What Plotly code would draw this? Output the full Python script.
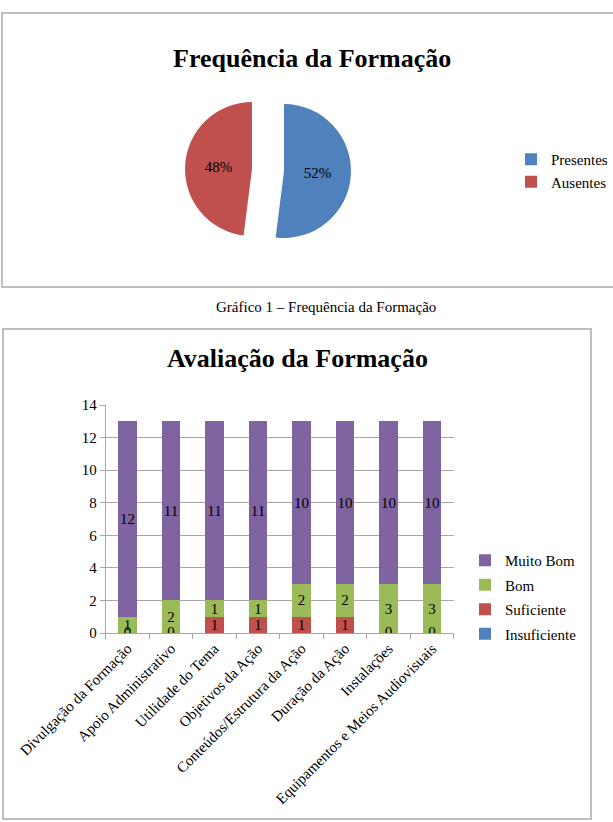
import plotly.graph_objects as go

# ---- data ----
pie_labels = ["Presentes", "Ausentes"]
pie_values = [52, 48]

categories = [
    "Divulgação da Formação",
    "Apoio Administrativo",
    "Utilidade do Tema",
    "Objetivos da Ação",
    "Conteúdos/Estrutura da Ação",
    "Duração da Ação",
    "Instalações",
    "Equipamentos e Meios Audiovisuais",
]
insuficiente = [0, 0, 0, 0, 0, 0, 0, 0]
suficiente = [0, 0, 1, 1, 1, 1, 0, 0]
bom = [1, 2, 1, 1, 2, 2, 3, 3]
muito_bom = [12, 11, 11, 11, 10, 10, 10, 10]
y_ticks = [0, 2, 4, 6, 8, 10, 12, 14]

W, H = 613, 822
FONT = "Liberation Serif, Times New Roman, serif"


def px(x):
    return x / W


def py(y):
    return 1 - y / H


fig = go.Figure()

fig.add_trace(go.Pie(
    labels=pie_labels, values=pie_values,
    marker=dict(colors=["#4F81BD", "#C0504D"]),
    sort=False, direction="clockwise", rotation=0,
    pull=[0.24, 0.24],
    textinfo="percent", texttemplate="%{percent:.0%}",
    textposition="inside", insidetextorientation="horizontal",
    textfont=dict(family=FONT, size=15, color="black"),
    domain=dict(x=[px(185), px(351)], y=[py(253), py(87)]),
    legend="legend", hoverinfo="label+percent",
))

series = [
    ("Insuficiente", insuficiente, "#4F81BD", 4),
    ("Suficiente", suficiente, "#C0504D", 3),
    ("Bom", bom, "#9BBB59", 2),
    ("Muito Bom", muito_bom, "#8064A2", 1),
]
for name, vals, col, rank in series:
    fig.add_trace(go.Bar(
        x=categories, y=vals, name=name, marker=dict(color=col, line=dict(width=0)),
        text=[str(v) if v > 0 else "" for v in vals],
        textposition="inside", insidetextanchor="middle", textangle=0,
        constraintext="none",
        textfont=dict(family=FONT, size=15, color="black"),
        legend="legend2", legendgroup=name, legendrank=rank,
        xaxis="x", yaxis="y",
    ))

# zero labels at the base of bars where Suficiente is 0
zero_x = [c for c, v in zip(categories, suficiente) if v == 0]
zero_y = [v for v in suficiente if v == 0]
fig.add_trace(go.Scatter(
    x=zero_x, y=zero_y, mode="text", text=[str(v) for v in zero_y],
    textposition="middle center",
    textfont=dict(family=FONT, size=15, color="black"),
    showlegend=False, hoverinfo="skip",
))

fig.update_layout(
    width=W, height=H, autosize=False,
    margin=dict(l=0, r=0, t=0, b=0, autoexpand=False),
    paper_bgcolor="white", plot_bgcolor="white",
    barmode="stack", bargap=0.58,
    font=dict(family=FONT, size=15, color="black"),
    xaxis=dict(
        domain=[px(105.75), px(453.75)], anchor="y", automargin=False,
        tickangle=-45, tickfont=dict(family=FONT, size=15),
        showline=True, linecolor="#A6A6A6", linewidth=1,
        ticks="outside", tickson="boundaries", ticklen=5, tickcolor="#A6A6A6",
        showgrid=False,
    ),
    yaxis=dict(
        domain=[py(633), py(405)], anchor="x", automargin=False,
        range=[0, 14], tickvals=y_ticks,
        tickfont=dict(family=FONT, size=15),
        showgrid=True, gridcolor="#A6A6A6", gridwidth=1,
        showline=True, linecolor="#A6A6A6", linewidth=1,
        ticks="outside", ticklen=5, tickcolor="#A6A6A6",
        zeroline=False,
    ),
    legend=dict(
        x=px(511), y=py(143), xanchor="left", yanchor="top",
        font=dict(family=FONT, size=15), bgcolor="rgba(0,0,0,0)",
        tracegroupgap=0,
    ),
    legend2=dict(
        x=px(465), y=py(544), xanchor="left", yanchor="top",
        font=dict(family=FONT, size=15), bgcolor="rgba(0,0,0,0)",
        traceorder="grouped", tracegroupgap=2,
    ),
    shapes=[
        dict(type="rect", xref="paper", yref="paper",
             x0=px(2), x1=px(640), y0=py(287), y1=py(13),
             line=dict(color="#BFBFBF", width=2)),
        dict(type="rect", xref="paper", yref="paper",
             x0=px(3), x1=px(591), y0=py(819), y1=py(329),
             line=dict(color="#BFBFBF", width=2)),
    ],
    annotations=[
        dict(text="<b>Frequência da Formação</b>", x=px(312), y=py(42),
             xref="paper", yref="paper", showarrow=False,
             font=dict(family=FONT, size=26, color="black")),
        dict(text="Gráfico 1 – Frequência da Formação", x=px(326), y=py(307),
             xref="paper", yref="paper", showarrow=False,
             font=dict(family=FONT, size=15, color="black")),
        dict(text="<b>Avaliação da Formação</b>", x=px(297), y=py(358),
             xref="paper", yref="paper", showarrow=False,
             font=dict(family=FONT, size=26, color="black")),
    ],
)

fig.write_html("out.html")
